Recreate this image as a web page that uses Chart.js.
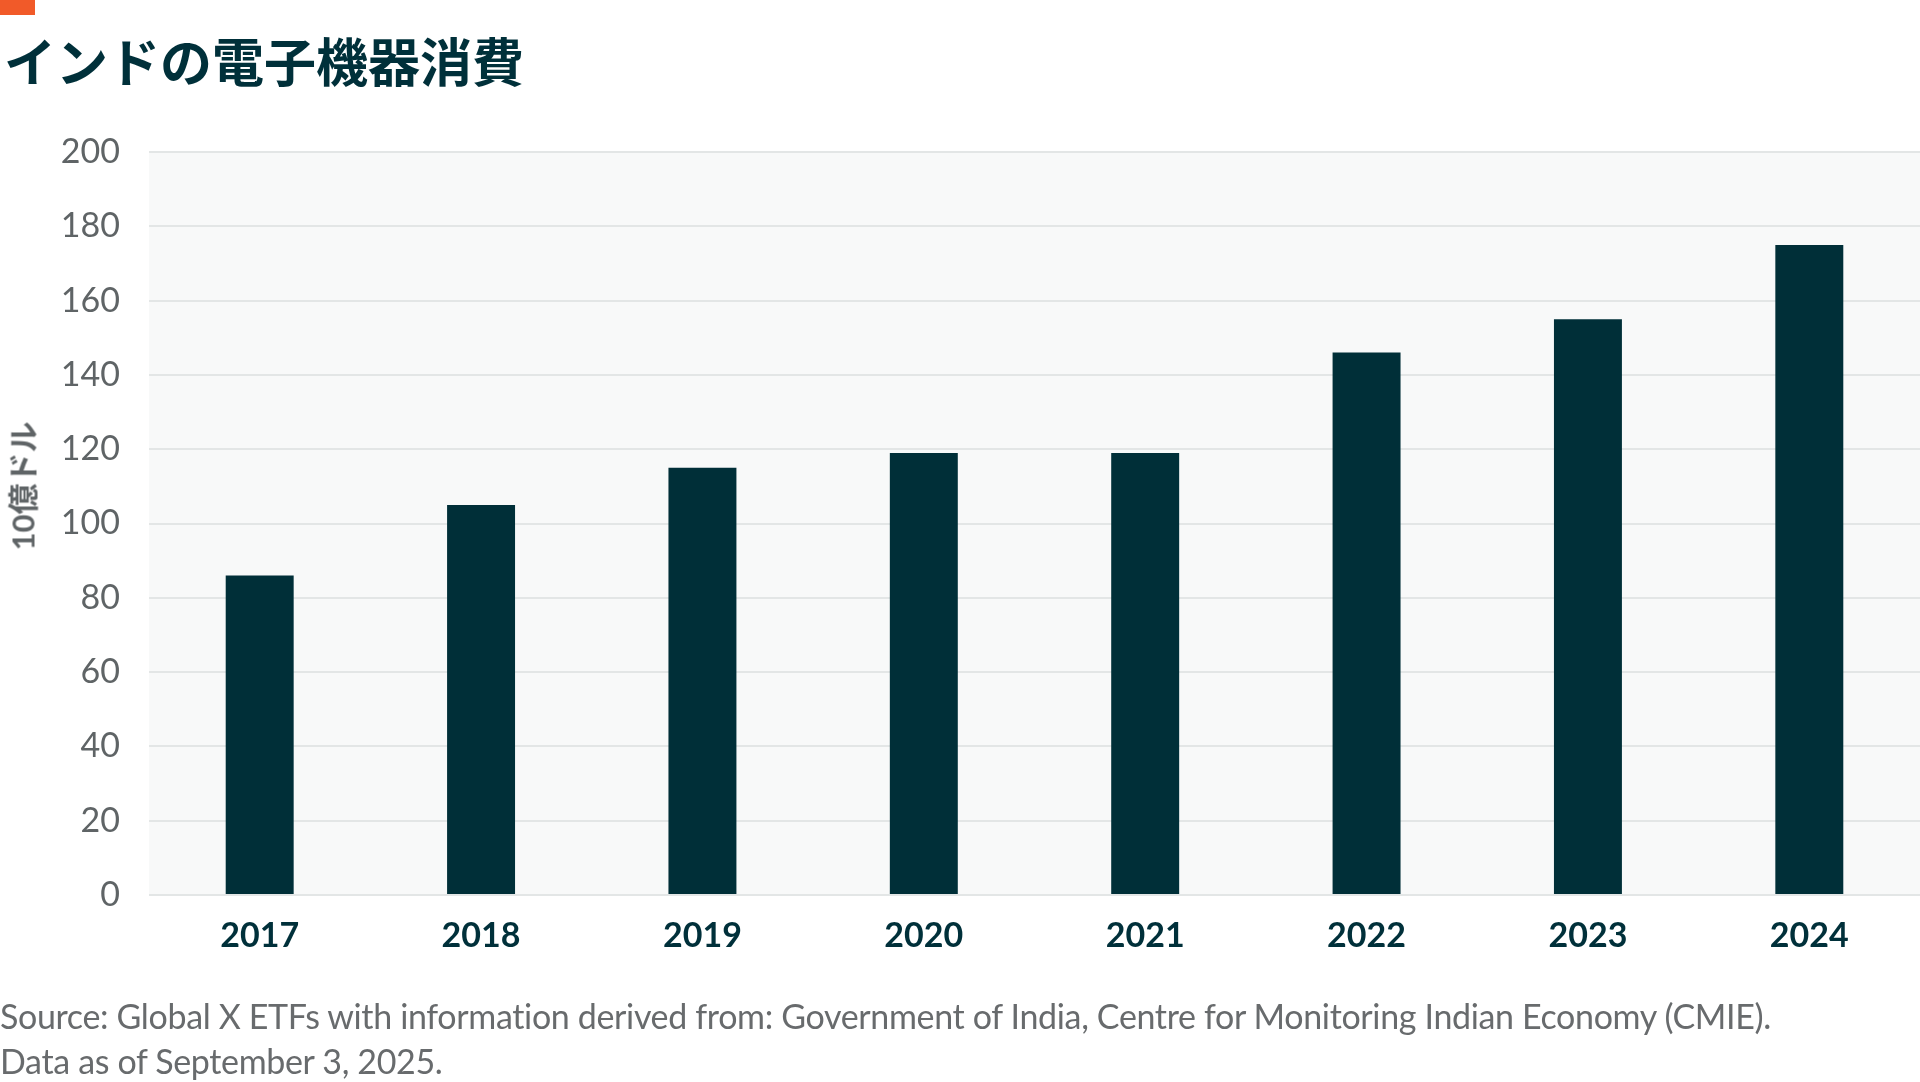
<!DOCTYPE html>
<html lang="ja">
<head>
<meta charset="utf-8">
<title>インドの電子機器消費</title>
<script src="https://cdn.jsdelivr.net/npm/chart.js@4.4.1/dist/chart.umd.min.js"></script>
<style>
  html, body { margin: 0; padding: 0; background: #fff; }
  body { width: 1920px; height: 1082px; position: relative; overflow: hidden; font-family: Lato, "Noto Sans CJK JP", sans-serif; }
  .accent { position: absolute; left: 0; top: 0; width: 35px; height: 15px; background: #f15a29; }
  h1 { position: absolute; left: 4px; top: 29px; margin: 0; font: 700 52px "Noto Sans CJK JP", sans-serif; color: #00303a; line-height: 62px; }
  .ytitle { position: absolute; left: 21px; top: 486px; transform: translate(-50%, -50%) rotate(-90deg); white-space: nowrap;
    font: 700 31px Lato, "Noto Sans CJK JP", sans-serif; color: #5f6466; }
  .chart-box { position: absolute; left: 0; top: 0; width: 1920px; height: 1082px; }
  .source { position: absolute; left: 0; top: 993px; margin: 0; font: 400 34px Lato, sans-serif; letter-spacing: -0.35px; color: #686b6d; line-height: 45px; }
</style>
</head>
<body>
<div class="accent"></div>
<h1>インドの電子機器消費</h1>
<div class="chart-box"><canvas id="chart"></canvas></div>
<div class="ytitle">10億ドル</div>
<p class="source">Source: Global X ETFs with information derived from: Government of India, Centre for Monitoring Indian Economy (CMIE).<br>Data as of September 3, 2025.</p>

<script>
const years = ['2017', '2018', '2019', '2020', '2021', '2022', '2023', '2024'];
const consumption = [86, 105, 115, 119, 119, 146, 155, 175];
const yTicks = [0, 20, 40, 60, 80, 100, 120, 140, 160, 180, 200];

// light grey panel behind the plot area
const plotBackground = {
  id: 'plotBackground',
  beforeDraw(chart) {
    const { ctx, chartArea } = chart;
    ctx.save();
    ctx.fillStyle = '#f8f9f9';
    ctx.fillRect(chartArea.left, chartArea.top, chartArea.right - chartArea.left, chartArea.bottom - chartArea.top);
    ctx.restore();
  },
};

new Chart(document.getElementById('chart'), {
  type: 'bar',
  data: {
    labels: years,
    datasets: [
      {
        data: consumption,
        backgroundColor: '#002f38',
        borderWidth: 0,
        categoryPercentage: 1,
        barPercentage: 0.307,
      },
    ],
  },
  options: {
    responsive: true,
    maintainAspectRatio: false,
    animation: false,
    layout: { padding: { top: 152, right: 0, bottom: 0, left: 0 } },
    plugins: {
      legend: { display: false },
      tooltip: { enabled: false },
    },
    scales: {
      x: {
        afterFit: (scale) => { scale.height = 187; },
        grid: { display: false, drawTicks: false },
        border: { display: false },
        ticks: { color: '#00303a', font: { family: 'Lato', size: 34, weight: 'bold' }, padding: 21, maxRotation: 0 },
      },
      y: {
        min: 0,
        max: 200,
        afterFit: (scale) => { scale.width = 149; },
        afterBuildTicks: (scale) => { scale.ticks = yTicks.map((v) => ({ value: v })); },
        grid: { color: '#e3e6e6', lineWidth: 2, drawTicks: false },
        border: { display: false },
        ticks: { color: '#5f6466', font: { family: 'Lato', size: 34 }, padding: 29 },
      },
    },
  },
  plugins: [plotBackground],
});
</script>
</body>
</html>
